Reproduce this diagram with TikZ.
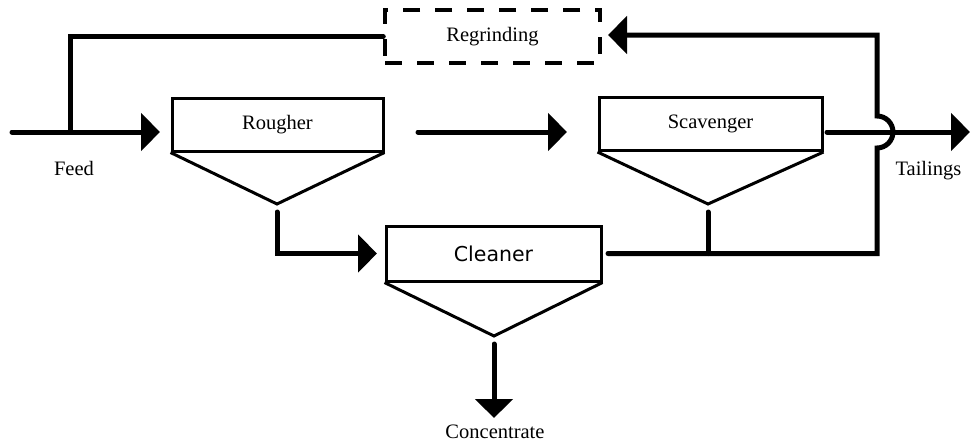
\documentclass[tikz,border=0pt]{standalone}
\usepackage{fontspec}
\setmainfont{Liberation Serif}
\newfontfamily\cleanerfont{DejaVu Sans}
\usetikzlibrary{arrows.meta}

\begin{document}
\begin{tikzpicture}[x=1pt,y=-1pt,line join=miter,
  cell/.style={draw,line width=3pt,minimum height=53pt,inner sep=0pt},
  regrind/.style={draw,line width=3.5pt,dash pattern=on 17pt off 15pt,minimum width=215pt,minimum height=53pt,inner sep=0pt},
  hopper/.style={line width=3pt},
  pipe/.style={line width=5pt,line cap=round},
  flow/.style={pipe,-{Triangle[length=19pt,width=37pt]}},
  lbl/.style={font=\fontsize{20.5}{24}\selectfont}]
\useasboundingbox (0,0) rectangle (970,445);
% cells
\node[cell,lbl,minimum width=211pt] (rougher) at (277.5,124.5) {Rougher};
\node[cell,lbl,minimum width=223pt] (scavenger) at (710.5,124) {Scavenger};
\node[cell,minimum width=215pt,minimum height=55pt,font=\cleanerfont\fontsize{20.5}{24}\selectfont] (cleaner) at (493.5,253.5) {Cleaner};
\node[regrind,lbl] (regrinding) at (492.5,36.5) {Regrinding};
% hoppers
\draw[hopper] (rougher.south west) -- (277,204) coordinate (rapex) -- (rougher.south east);
\draw[hopper] (scavenger.south west) -- (708,204) coordinate (sapex) -- (scavenger.south east);
\draw[hopper] (cleaner.south west) -- (494,336) coordinate (capex) -- (cleaner.south east);
% free ends of the lines
\coordinate (feedin) at (12,132);
\coordinate (feedtee) at (70,132);
\coordinate (feedtip) at (160,132);
\coordinate (rsfrom) at (418,132);
\coordinate (rsto) at (567,132);
\coordinate (rdrop) at (277,212);
\coordinate (ctip) at (377,253.5);
\coordinate (sdrop) at (708,212);
\coordinate (sout) at (827,132);
\coordinate (ttip) at (970,132);
\coordinate (cout) at (608,253.5);
\coordinate (loopc) at (877,253.5);
\coordinate (hopbot) at (877,148);
\coordinate (looptop) at (877,35);
\coordinate (regtip) at (608,35);
\coordinate (cdrop) at (494,344);
\coordinate (conctip) at (494,418);
% flows
\draw[flow] (feedin) -- (feedtip);
\draw[pipe] (feedtee) |- (regrinding.west);
\draw[flow] (rsfrom) -- (rsto);
\draw[flow] (rdrop) |- (ctip);
\draw[flow] (sout) -- (ttip);
\draw[pipe] (sdrop) -- (sdrop |- cout);
\draw[flow] (cout) -- (loopc) -- (hopbot) arc[start angle=-90,end angle=90,radius=16pt] -- (looptop) -- (regtip);
\draw[flow] (cdrop) -- (conctip);
% labels
\node[lbl,anchor=base] (feed) at (74,175) {Feed};
\node[lbl,anchor=base west] (tailings) at (892,175) {Tailings};
\node[lbl] (concentrate) at (495,432) {Concentrate};
\end{tikzpicture}
\end{document}
